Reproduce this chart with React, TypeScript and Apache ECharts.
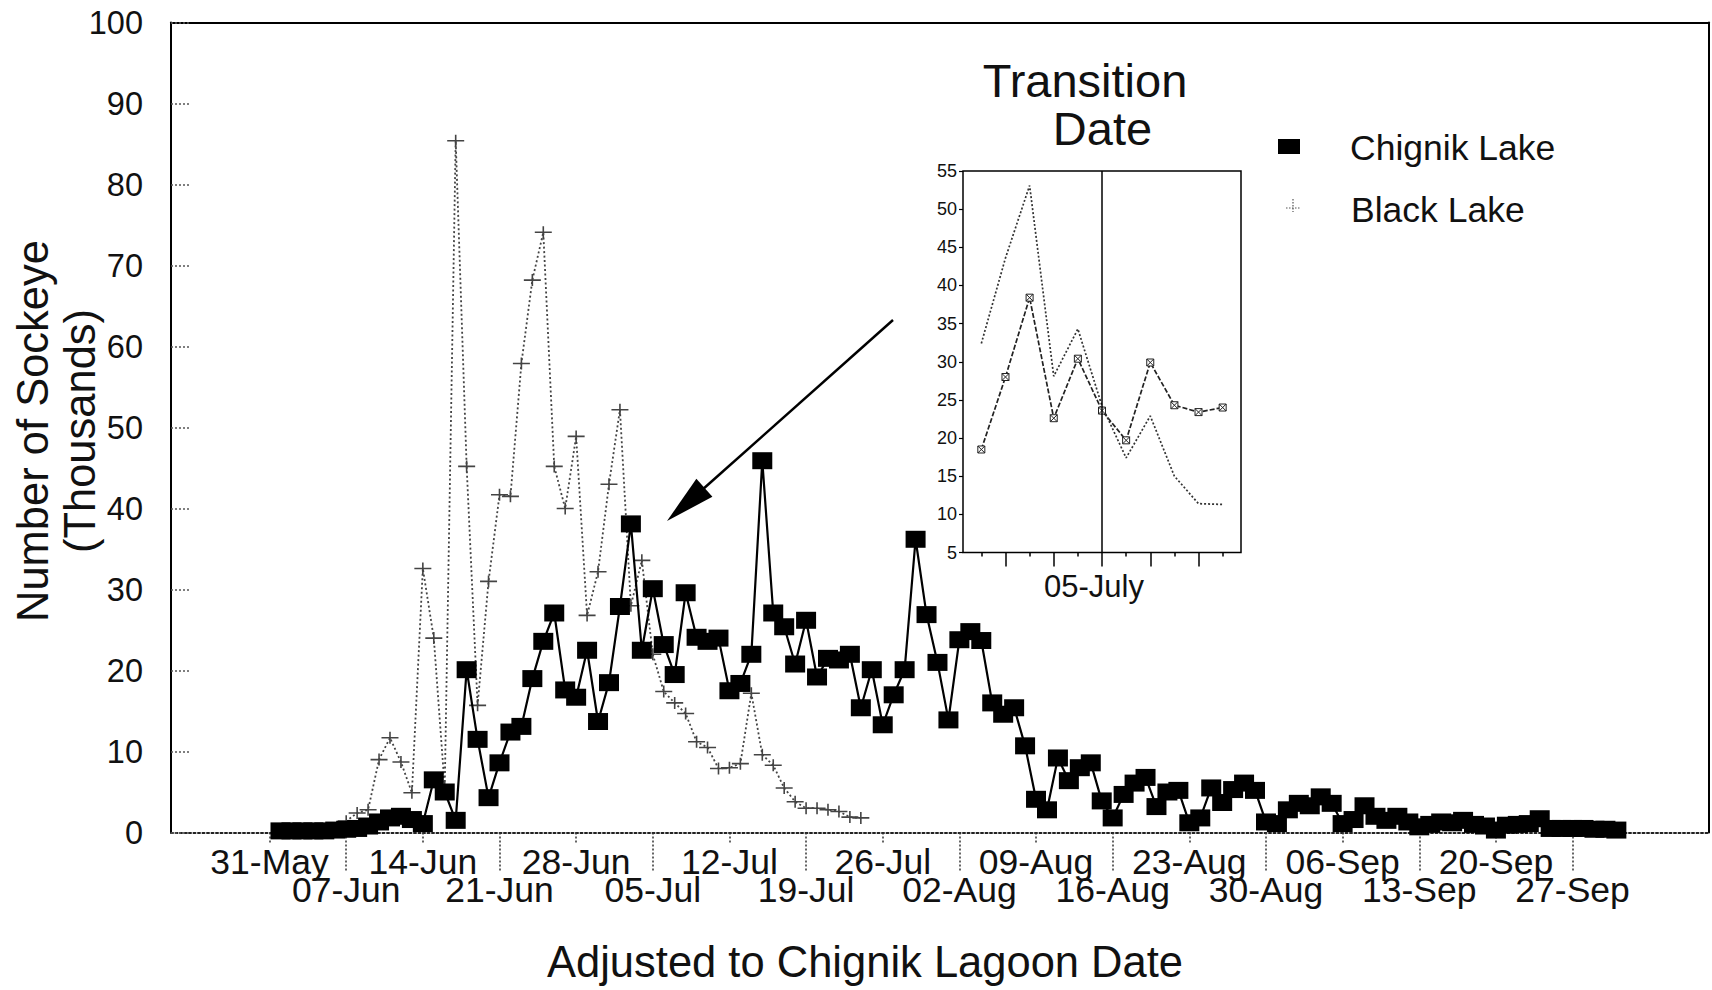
import React, { useEffect, useRef } from "react";
import * as echarts from "echarts";

// Day numbers are counted from 31 May (day 0).
const tickDays = [0, 7, 14, 21, 28, 35, 42, 49, 56, 63, 70, 77, 84, 91, 98, 105, 112, 119];
const tickLabels = [
  "31-May", "07-Jun", "14-Jun", "21-Jun", "28-Jun", "05-Jul", "12-Jul", "19-Jul", "26-Jul",
  "02-Aug", "09-Aug", "16-Aug", "23-Aug", "30-Aug", "06-Sep", "13-Sep", "20-Sep", "27-Sep",
];

// Daily counts (thousands of sockeye), first value on day 1 (1 June).
const chignikStartDay = 1;
const chignikLake = [
  0.2, 0.2, 0.2, 0.2, 0.2, 0.3, 0.4, 0.5, 0.8, 1.3,
  1.8, 2.0, 1.6, 1.1, 6.5, 5.0, 1.5, 20.1, 11.5, 4.3,
  8.6, 12.4, 13.1, 19.0, 23.6, 27.1, 17.6, 16.7, 22.5, 13.7,
  18.5, 27.9, 38.1, 22.5, 30.1, 23.2, 19.5, 29.6, 24.1, 23.6,
  24.0, 17.5, 18.4, 22.0, 45.9, 27.1, 25.4, 20.8, 26.2, 19.2,
  21.5, 21.3, 22.0, 15.4, 20.1, 13.3, 17.0, 20.1, 36.2, 26.9,
  21.0, 13.9, 23.8, 24.8, 23.7, 16.0, 14.6, 15.4, 10.7, 4.1,
  2.8, 9.2, 6.4, 8.0, 8.6, 3.9, 1.8, 4.7, 6.1, 6.8,
  3.2, 5.0, 5.2, 1.2, 1.8, 5.5, 3.7, 5.3, 6.1, 5.2,
  1.3, 1.1, 2.8, 3.6, 3.3, 4.4, 3.6, 1.1, 1.6, 3.3,
  2.0, 1.5, 2.0, 1.3, 0.7, 1.0, 1.3, 1.2, 1.5, 1.0,
  0.8, 0.3, 0.9, 1.0, 1.1, 1.7, 0.5, 0.5, 0.5, 0.5,
  0.4, 0.4, 0.3,
];

const blackStartDay = 1;
const blackLake = [
  0.3, 0.3, 0.3, 0.3, 0.4, 0.5, 1.4, 2.4, 2.8, 9.0,
  11.7, 8.7, 4.9, 32.6, 24.0, 5.5, 85.4, 45.2, 15.7, 31.0,
  41.7, 41.5, 57.9, 68.2, 74.1, 45.2, 40.0, 48.9, 26.8, 32.2,
  43.0, 52.2, 28.0, 33.6, 22.0, 17.4, 16.0, 14.7, 11.2, 10.5,
  7.9, 8.0, 8.5, 17.2, 9.6, 8.3, 5.5, 3.8, 3.0, 3.0,
  2.8, 2.6, 1.9, 1.8,
];

// Inset: eleven days centred on the transition date (05-July = index 5).
const insetIndex = [0, 1, 2, 3, 4, 5, 6, 7, 8, 9, 10];
const insetChignik = [18.5, 28.0, 38.4, 22.6, 30.4, 23.6, 19.7, 29.9, 24.3, 23.4, 24.0];
const insetBlack = [32.4, 43.6, 53.1, 28.1, 34.3, 24.2, 17.4, 22.9, 15.0, 11.4, 11.3];
const transitionIndex = 5;
const transitionLabel = "05-July";

const FONT = "'Liberation Sans', Arial, Helvetica, sans-serif";
const INK = "#111";

const plusSymbol = "path://M0,5.2H17V6.8H0Z M7.7,0H9.3V12H7.7Z";
const boxCrossSymbol = "path://M0,0H10V10H0Z M0,0L10,10 M10,0L0,10";

export default function App() {
  const ref = useRef<HTMLDivElement>(null);

  useEffect(() => {
    if (!ref.current) return;
    const chart = echarts.init(ref.current, null, { renderer: "svg" });

    const chignikData = chignikLake.map((v, i) => [chignikStartDay + i, v]);
    const blackData = blackLake.map((v, i) => [blackStartDay + i, v]);
    const insetA = insetIndex.map((x, i) => [x, insetChignik[i]]);
    const insetB = insetIndex.map((x, i) => [x, insetBlack[i]]);

    // Date labels are staggered over two rows: even weeks above, odd weeks below.
    const upperDays = tickDays.filter((_, i) => i % 2 === 0);
    const lowerDays = tickDays.filter((_, i) => i % 2 === 1);
    const dayLabel = (v: number) => {
      const i = tickDays.indexOf(Math.round(v));
      return i < 0 ? "" : tickLabels[i];
    };

    const mainX = { min: -9, max: 131.46 };
    const insetX = { min: -0.76, max: 10.76 };
    const dateLabelStyle = {
      fontSize: 35.5, lineHeight: 28.5, color: INK, fontFamily: FONT,
      hideOverlap: false, showMinLabel: true, showMaxLabel: true, formatter: dayLabel,
    };
    const dateTickStyle = { color: "#333", width: 1.5, type: [2, 2] };

    chart.setOption({
      animation: false,
      backgroundColor: "#fff",
      textStyle: { fontFamily: FONT, color: INK },
      grid: [
        { left: 171, top: 22.5, width: 1538, height: 810, outerBoundsMode: "none", containLabel: false },
        {
          left: 963, top: 171, width: 278, height: 381.5, show: true,
          borderColor: "#000", borderWidth: 1.5, backgroundColor: "#fff",
          outerBoundsMode: "none", containLabel: false,
        },
      ],
      xAxis: [
        {
          gridIndex: 0, type: "value", position: "bottom", ...mainX,
          axisLine: { show: true, onZero: false, lineStyle: { color: "#222", width: 2, type: [2, 2.5] } },
          axisTick: { show: true, inside: false, length: 10, customValues: upperDays, lineStyle: dateTickStyle },
          axisLabel: { show: true, customValues: upperDays, margin: 15, ...dateLabelStyle },
          splitLine: { show: false },
        },
        {
          gridIndex: 0, type: "value", position: "bottom", ...mainX,
          axisLine: { show: false, onZero: false },
          axisTick: { show: true, inside: false, length: 40, customValues: lowerDays, lineStyle: dateTickStyle },
          axisLabel: { show: true, customValues: lowerDays, margin: 43.5, ...dateLabelStyle },
          splitLine: { show: false },
        },
        {
          gridIndex: 0, type: "value", position: "top", ...mainX,
          axisLine: { show: true, onZero: false, lineStyle: { color: "#000", width: 2 } },
          axisTick: { show: false }, axisLabel: { show: false }, splitLine: { show: false },
        },
        {
          gridIndex: 1, type: "value", position: "bottom", ...insetX,
          axisLine: { show: false, onZero: false },
          axisTick: {
            show: true, inside: false, length: 14, customValues: [1, 3, 5, 7, 9],
            lineStyle: { color: "#000", width: 1.5 },
          },
          axisLabel: {
            show: true, customValues: [transitionIndex], margin: 18, fontSize: 31,
            color: INK, fontFamily: FONT, padding: [0, 16, 0, 0],
            showMinLabel: true, showMaxLabel: true,
            formatter: () => transitionLabel,
          },
          splitLine: { show: false },
        },
        {
          gridIndex: 1, type: "value", position: "bottom", ...insetX,
          axisLine: { show: false, onZero: false },
          axisTick: {
            show: true, inside: false, length: 4, customValues: [0, 2, 4, 6, 8, 10],
            lineStyle: { color: "#000", width: 1.5 },
          },
          axisLabel: { show: false }, splitLine: { show: false },
        },
      ],
      yAxis: [
        {
          gridIndex: 0, type: "value", position: "left", min: 0, max: 100, interval: 10,
          axisLine: { show: true, onZero: false, lineStyle: { color: "#000", width: 2 } },
          axisTick: { show: true, inside: true, length: 20, lineStyle: { color: "#555", width: 1.5, type: [2, 2] } },
          axisLabel: { show: true, margin: 28, fontSize: 32.5, color: INK, fontFamily: FONT },
          splitLine: { show: false },
        },
        {
          gridIndex: 0, type: "value", position: "right", min: 0, max: 100,
          axisLine: { show: true, onZero: false, lineStyle: { color: "#000", width: 2 } },
          axisTick: { show: false }, axisLabel: { show: false }, splitLine: { show: false },
        },
        {
          gridIndex: 1, type: "value", position: "left", min: 5, max: 55, interval: 5,
          axisLine: { show: false, onZero: false },
          axisTick: { show: true, inside: false, length: 4, lineStyle: { color: "#000", width: 1.2 } },
          axisLabel: { show: true, margin: 6, fontSize: 18, color: INK, fontFamily: FONT },
          splitLine: { show: false },
        },
      ],
      series: [
        {
          name: "Black Lake", type: "line", xAxisIndex: 0, yAxisIndex: 0, data: blackData,
          symbol: plusSymbol, symbolSize: [17, 12], showAllSymbol: true,
          itemStyle: { color: "#444" },
          lineStyle: { color: "#444", width: 1.8, type: [2, 2.5] },
          z: 2,
        },
        {
          name: "Chignik Lake", type: "line", xAxisIndex: 0, yAxisIndex: 0, data: chignikData,
          symbol: "rect", symbolSize: [20, 17], showAllSymbol: true,
          itemStyle: { color: "#000" },
          lineStyle: { color: "#000", width: 2.2 },
          z: 3,
        },
        {
          name: "Inset Chignik", type: "line", xAxisIndex: 3, yAxisIndex: 2, data: insetA,
          symbol: boxCrossSymbol, symbolSize: 7, showAllSymbol: true,
          itemStyle: { color: "#fff", borderColor: "#222", borderWidth: 1 },
          lineStyle: { color: "#222", width: 1.7, type: [5, 2] },
          markLine: {
            silent: true, symbol: "none", label: { show: false },
            lineStyle: { color: "#000", width: 1.5, type: "solid" },
            data: [{ xAxis: transitionIndex }],
          },
          z: 4,
        },
        {
          name: "Inset Black", type: "line", xAxisIndex: 3, yAxisIndex: 2, data: insetB,
          symbol: "none",
          lineStyle: { color: "#333", width: 1.7, type: [2, 2] },
          z: 4,
        },
      ],
      graphic: [
        // y axis title
        {
          type: "text", x: 56, y: 431, rotation: Math.PI / 2,
          style: {
            text: "Number of Sockeye\n(Thousands)", fontSize: 43.5, fontFamily: FONT, fill: INK,
            lineHeight: 47, align: "center", verticalAlign: "middle",
          },
        },
        // x axis title
        {
          type: "text", x: 865, y: 962,
          style: {
            text: "Adjusted to Chignik Lagoon Date", fontSize: 43.5, fontFamily: FONT, fill: INK,
            align: "center", verticalAlign: "middle",
          },
        },
        // inset title, second line set a little to the right
        {
          type: "text", x: 1085, y: 104,
          style: {
            text: "Transition\n{d|Date}", fontSize: 47, fontFamily: FONT, fill: INK,
            lineHeight: 48, align: "center", verticalAlign: "middle",
            rich: { d: { fontSize: 47, fontFamily: FONT, fill: INK, lineHeight: 48, padding: [0, 0, 0, 35] } },
          },
        },
        // legend
        { type: "rect", shape: { x: 1278, y: 139, width: 22, height: 15 }, style: { fill: "#000" } },
        {
          type: "text", x: 1350, y: 148,
          style: { text: "Chignik Lake", fontSize: 35.5, fontFamily: FONT, fill: INK, align: "left", verticalAlign: "middle" },
        },
        { type: "line", shape: { x1: 1286, y1: 208, x2: 1300, y2: 208 }, style: { stroke: "#555", lineWidth: 1.2, lineDash: [1.5, 1.5] } },
        { type: "line", shape: { x1: 1293, y1: 199, x2: 1293, y2: 212 }, style: { stroke: "#555", lineWidth: 1.2, lineDash: [1.5, 1.5] } },
        {
          type: "text", x: 1351, y: 210,
          style: { text: "Black Lake", fontSize: 35.5, fontFamily: FONT, fill: INK, align: "left", verticalAlign: "middle" },
        },
        // arrow pointing at the transition
        { type: "line", shape: { x1: 893, y1: 320, x2: 702, y2: 490 }, style: { stroke: "#000", lineWidth: 2.5 } },
        {
          type: "polygon",
          shape: { points: [[667, 521], [712.4, 496.8], [696.4, 478.8]] },
          style: { fill: "#000" },
        },
      ],
    });

    return () => chart.dispose();
  }, []);

  return (
    <div
      ref={ref}
      style={{ position: "fixed", left: 0, top: 0, width: 1712, height: 990, background: "#fff" }}
    />
  );
}
